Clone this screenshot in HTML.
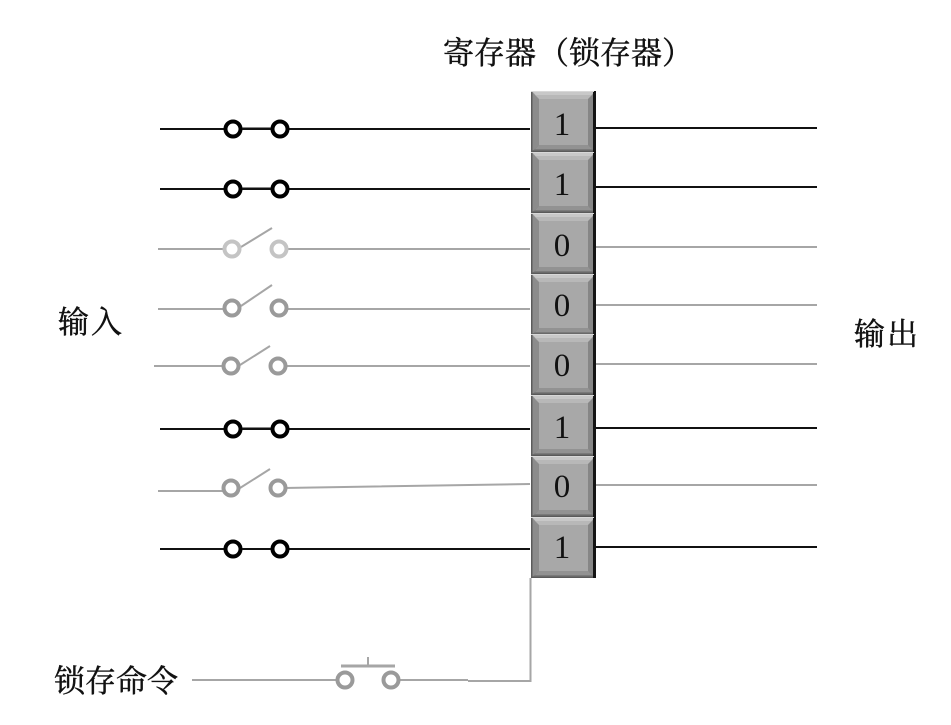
<!DOCTYPE html>
<html><head><meta charset="utf-8"><style>
html,body{margin:0;padding:0;background:#fff;width:951px;height:725px;overflow:hidden}
svg{display:block}
text{font-family:"Liberation Serif","Noto Serif CJK SC",serif;fill:#111}
.cjk text{stroke:#111;stroke-width:.45px}
</style></head><body>
<svg width="951" height="725" viewBox="0 0 951 725" xmlns="http://www.w3.org/2000/svg">
<defs>
<g id="cell">
<rect x="0" y="0" width="65" height="61" fill="#a8a8a8"/>
<polygon points="1,0 64,0 57,8 8,8" fill="#c8c8c8"/>
<polygon points="4,4 61,4 57,8 8,8" fill="#b8b8b8"/>
<polygon points="0,0 8,8 8,54 0,61" fill="#8c8c8c"/>
<polygon points="65,0 57,8 57,54 65,61" fill="#868686"/>
<polygon points="0,61 8,54 57,54 65,61" fill="#7a7a7a"/>
<polygon points="4,58 8,54 57,54 61,58" fill="#929292"/>
<rect x="0" y="0" width="1.5" height="61" fill="#5c5c5c"/>
<rect x="62" y="0" width="3" height="61" fill="#141414"/>
<rect x="0" y="0" width="63" height="1" fill="#d8d8d8"/>
<rect x="0" y="59.500" width="62" height="1.500" fill="#5a5a5a"/>
</g>
</defs>

<g fill="none" stroke-width="2">
<g stroke="#111">
<path d="M160 129H530M160 189H530M160 429H530M160 549H530"/>
<path d="M596 128H817M596 187H817M596 428H817M596 547H817"/>
</g>
<g stroke="#a6a6a6">
<path d="M158 249H226M284 249H530M158 309H226M284 309H530M154 366H224M284 366H530M158 491H224M284 488L530 484"/>
<path d="M596 247H817M596 305H817M596 364H817M596 485H817"/>
<path d="M241 247L272 228M241 306L272 285M240 365L270 346M240 488L270 469"/>
<path d="M530.500 578V681H468M397 680H468M192 680H338"/>
<path stroke-width="3" d="M341 666H395"/>
<path d="M368 657V666"/>
</g>
</g>

<g fill="#fff" stroke-width="4">
<g stroke="#000">
<circle cx="233" cy="129" r="7.500"/><circle cx="280" cy="129" r="7.500"/>
<circle cx="233" cy="189" r="7.500"/><circle cx="280" cy="189" r="7.500"/>
<circle cx="233" cy="429" r="7.500"/><circle cx="280" cy="429" r="7.500"/>
<circle cx="233" cy="549" r="7.500"/><circle cx="280" cy="549" r="7.500"/>
</g>
<g stroke="#c4c4c4">
<circle cx="232" cy="249" r="7.500"/><circle cx="279" cy="249" r="7.500"/>
</g>
<g stroke="#9a9a9a">
<circle cx="232" cy="308" r="7.500"/><circle cx="279" cy="308" r="7.500"/>
<circle cx="231" cy="366" r="7.500"/><circle cx="278" cy="366" r="7.500"/>
<circle cx="231" cy="488" r="7.500"/><circle cx="278" cy="488" r="7.500"/>
<circle cx="345" cy="680" r="7.500"/><circle cx="391" cy="680" r="7.500"/>
</g>
</g>

<g stroke="#111" stroke-width="2" fill="none">
<path d="M242 128.500H271M242 188.500H271M242 428.500H271M242 549H271"/>
</g>

<use href="#cell" x="531" y="91"/>
<use href="#cell" x="531" y="152"/>
<use href="#cell" x="531" y="213"/>
<use href="#cell" x="531" y="274"/>
<use href="#cell" x="531" y="334"/>
<use href="#cell" x="531" y="395"/>
<use href="#cell" x="531" y="456"/>
<use href="#cell" x="531" y="517"/>

<g font-size="33" text-anchor="middle">
<text x="562" y="135">1</text>
<text x="562" y="195">1</text>
<text x="562" y="256">0</text>
<text x="562" y="316">0</text>
<text x="562" y="376">0</text>
<text x="562" y="438">1</text>
<text x="562" y="497">0</text>
<text x="562" y="558">1</text>
</g>

<g class="cjk" font-size="31">
<text x="443" y="64">寄存器</text>
<text x="538" y="64">（锁存器）</text>
<text x="58" y="333" letter-spacing="2">输入</text>
<text x="854" y="345" letter-spacing="2">输出</text>
<text x="54" y="692">锁存命令</text>
</g>
</svg>
</body></html>
